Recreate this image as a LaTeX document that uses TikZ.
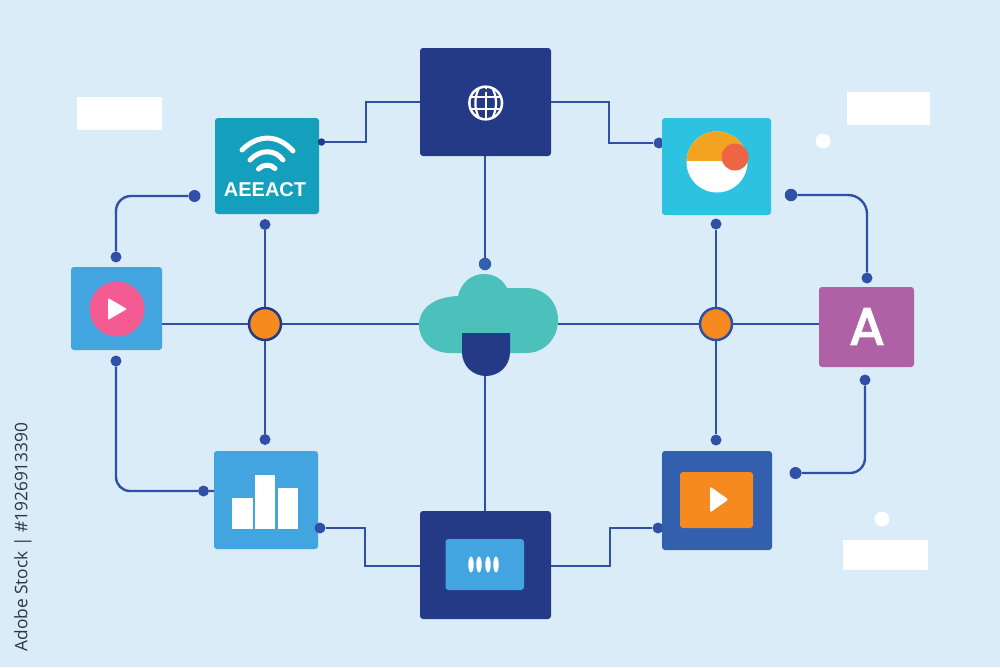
\documentclass[tikz,border=0pt]{standalone}
\usepackage{fontspec}
\setmainfont{Open Sans}
\newfontfamily\labelfont{Liberation Sans}
\newfontfamily\letterfont[RawFeature={embolden=3.2}]{Poppins}
\definecolor{bg}{HTML}{D9ECF8}
\definecolor{wire}{HTML}{3050A8}
\definecolor{navy}{HTML}{253A87}
\definecolor{tealbox}{HTML}{149FBD}
\definecolor{cyanbox}{HTML}{2CC2E0}
\definecolor{skybox}{HTML}{42A5E0}
\definecolor{purplebox}{HTML}{B060A5}
\definecolor{royal}{HTML}{325FAE}
\definecolor{hubor}{HTML}{F78A1E}
\definecolor{amber}{HTML}{F2A31F}
\definecolor{coral}{HTML}{EE6545}
\definecolor{pink}{HTML}{F45B92}
\definecolor{cloudc}{HTML}{4CC1BC}
\definecolor{stamp}{HTML}{2E3640}
\pgfdeclarelayer{under}
\pgfsetlayers{under,main}
\tikzset{
  wirel/.style={draw=wire,line width=2.4pt},
  tile/.style={inner sep=0pt,rounded corners=3pt,draw=none},
  dotn/.style={circle,fill=wire,inner sep=0pt,minimum size=11pt},
  bigdot/.style={dotn,minimum size=12.5pt},
  hub/.style={circle,fill=hubor,draw=wire,line width=2.5pt,inner sep=0pt,minimum size=32pt},
  blank/.style={fill=white,inner sep=0pt,draw=none},
  whitedot/.style={circle,fill=white,inner sep=0pt,minimum size=15pt},
  wifiarc/.style={draw=white,line width=5pt,line cap=round},
  globeline/.style={draw=white,line width=2.2pt},
  bar/.style={fill=white,inner sep=0pt,anchor=south},
}
\begin{document}
\begin{tikzpicture}[x=1pt,y=-1pt]
\useasboundingbox (0,0) rectangle (1000,667);
\begin{pgfonlayer}{under}
\fill[bg] (0,0) rectangle (1000,667);
\end{pgfonlayer}

% dots half hidden by their tiles
\node[dotn] (dPieLeft) at (659,143) {};
\node[dotn] (dVideoLeft) at (658,528) {};

% tiles
\node[tile,fill=navy,minimum width=131pt,minimum height=108pt] (globe) at (485.5,102) {};
\node[tile,fill=tealbox,minimum width=104pt,minimum height=96pt] (wifi) at (267,166) {};
\node[tile,fill=cyanbox,minimum width=109pt,minimum height=97pt] (pie) at (716.5,166.5) {};
\node[tile,fill=purplebox,minimum width=95pt,minimum height=80pt] (letter) at (866.5,327) {};
\node[tile,fill=skybox,minimum width=91pt,minimum height=83pt] (play) at (116.5,308.5) {};
\node[tile,fill=skybox,minimum width=104pt,minimum height=98pt] (chart) at (266,500) {};
\node[tile,fill=navy,minimum width=131pt,minimum height=108pt] (store) at (485.5,565) {};
\node[tile,fill=royal,minimum width=110pt,minimum height=99pt] (video) at (717,500.5) {};

% invisible frames of the cloud and its shield
\node[inner sep=0pt,minimum width=139pt,minimum height=80pt] (cloud) at (488.5,325) {};
\node[inner sep=0pt,minimum width=48pt,minimum height=43pt] (shield) at (485.5,354.5) {};

% end dots
\node[dotn] (dWifiTop) at (265,224.5) {};
\node[dotn] (dChartTop) at (265,439.5) {};
\node[dotn] (dPieBot) at (716,224) {};
\node[dotn] (dVideoTop) at (716,440) {};
\node[bigdot,fill=royal] (dCloud) at (485,264) {};
\node[dotn] (dPlayTop) at (116,257) {};
\node[dotn,minimum size=12pt] (dWifiLeft) at (194.5,196) {};
\node[dotn] (dPlayBot) at (116,361) {};
\node[dotn] (dChartLeft) at (203.5,491) {};
\node[bigdot] (dPieRight) at (791,195) {};
\node[dotn] (dLetterTop) at (867,278) {};
\node[dotn] (dLetterBot) at (865,380) {};
\node[dotn,minimum size=12pt] (dVideoRight) at (795.5,473) {};
\node[dotn,fill=navy,minimum size=7.5pt] (dWifiRight) at (321.5,142) {};
\node[dotn] (dChartRight) at (320,528) {};

% hubs
\node[hub,draw=navy] (hubL) at (265,324) {};
\node[hub] (hubR) at (716,324) {};

% elbow coordinates
\coordinate (e1) at (366,142);
\coordinate (e2) at (366,102);
\coordinate (e3) at (609,102);
\coordinate (e4) at (609,143);
\coordinate (e5) at (365,528);
\coordinate (e6) at (365,566);
\coordinate (e7) at (610,566);
\coordinate (e8) at (610,528);
\coordinate (c1) at (867,195);
\coordinate (c2) at (865,473);
\coordinate (c3) at (116,196);
\coordinate (c4) at (116,491);

% connectors, under everything else
\begin{pgfonlayer}{under}
\draw[wirel] (dWifiRight) -- (e1) -- (e2) -- (e2 -| globe.west);
\draw[wirel] (e3 -| globe.east) -- (e3) -- (e4) -- (dPieLeft);
\draw[wirel] (dChartRight) -- (e5) -- (e6) -- (e6 -| store.west);
\draw[wirel] (e7 -| store.east) -- (e7) -- (e8) -- (dVideoLeft);
\draw[wirel] (dCloud |- globe.south) -- (dCloud);
\draw[wirel] (dCloud |- shield.south) -- (dCloud |- store.north);
\draw[wirel] (dWifiTop) -- (hubL);
\draw[wirel] (hubL) -- (dChartTop);
\draw[wirel] (dPieBot) -- (hubR);
\draw[wirel] (hubR) -- (dVideoTop);
\draw[wirel] (play.east |- hubL) -- (hubL);
\draw[wirel] (hubL) -- (cloud.west |- hubL);
\draw[wirel] (cloud.east |- hubR) -- (hubR);
\draw[wirel] (hubR) -- (letter.west |- hubR);
\draw[wirel,rounded corners=19pt] (dPieRight) -- (c1) -- (dLetterTop);
\draw[wirel,rounded corners=15pt] (dVideoRight) -- (c2) -- (dLetterBot);
\draw[wirel,rounded corners=15pt] (dPlayTop) -- (c3) -- (dWifiLeft);
\draw[wirel,rounded corners=14pt] (dPlayBot) -- (c4) -- (dChartLeft) -- (dChartLeft -| chart.west);
\end{pgfonlayer}

% cloud
\fill[cloudc] (450,353)
  .. controls (432,353) and (419,341) .. (419,325)
  .. controls (419,309) and (433,297) .. (458,296)
  .. controls (461,283) and (471,274) .. (484,274)
  .. controls (495,274) and (503,280) .. (507,288)
  -- (526,288)
  .. controls (545,288) and (558,302) .. (558,320)
  .. controls (558,339) and (544,353) .. (526,353) -- cycle;
\fill[navy] (462,333) -- (510,333) -- (510,352)
  .. controls (510,366) and (499,376) .. (486,376)
  .. controls (473,376) and (462,366) .. (462,352) -- cycle;

% globe icon
\fill[white] (485.7,103) circle[radius=17.6pt];
\fill[navy] (485.7,103) circle[radius=15pt];
\begin{scope}
\clip (485.7,103) circle[radius=16pt];
\draw[globeline] (485.7,87) -- (485.7,119);
\draw[globeline] (469,97) -- (502,97);
\draw[globeline] (469,109) -- (502,109);
\draw[globeline] (479.5,87) .. controls (474,97) and (474,109) .. (479.5,119);
\draw[globeline] (491.9,87) .. controls (497.4,97) and (497.4,109) .. (491.9,119);
\end{scope}
\fill[navy] (485.7,90.5) circle[radius=1.8pt];

% wifi icon
\draw[wifiarc] (242,150) .. controls (258,134) and (278,134) .. (293,151);
\draw[wifiarc] (250,160) .. controls (260,149) and (275,149) .. (283,160);
\draw[wifiarc] (258.5,169) .. controls (263,164) and (271,164) .. (275,168.5);
\node[text=white,inner sep=0pt,font=\labelfont\bfseries\fontsize{20}{20}\selectfont] (wifitext) at (265,190) {AEEACT};

% pie icon
\fill[white] (717,162) circle[radius=30.5pt];
\begin{scope}
\clip (686,131) rectangle (748,160);
\fill[amber] (717,162) circle[radius=30.5pt];
\end{scope}
\fill[coral] (735,157) circle[radius=13.5pt];

% letter
\node[text=white,inner sep=0pt,font=\letterfont\fontsize{52}{52}\selectfont] (lettertext) at (867,326.5) {A};

% play icon
\fill[pink] (117,309) circle[radius=27.5pt];
\fill[white,rounded corners=1pt] (108,298) -- (127,309) -- (108,320) -- cycle;

% chart icon
\node[bar,minimum width=20.5pt,minimum height=30.5pt] (b1) at (242.25,529) {};
\node[bar,minimum width=20pt,minimum height=54pt] (b2) at (265,529) {};
\node[bar,minimum width=19.5pt,minimum height=41pt] (b3) at (287.75,529) {};

% store icon
\node[tile,fill=skybox,minimum width=78.5pt,minimum height=51pt] (pad) at (484.75,564.5) {};
\foreach \x in {471,479,488,496}
  \fill[white] (\x,564.5) ellipse[x radius=2.7pt,y radius=8pt];

% video icon
\node[tile,fill=hubor,minimum width=73pt,minimum height=56pt] (screen) at (716.5,500) {};
\fill[white,rounded corners=1.5pt] (710,486.5) -- (728.5,499.5) -- (710,512.5) -- cycle;

% blanks
\node[blank,minimum width=85pt,minimum height=33pt] (blankA) at (119.5,113.5) {};
\node[blank,minimum width=83pt,minimum height=33pt] (blankB) at (888.5,108.5) {};
\node[blank,minimum width=85pt,minimum height=30pt] (blankC) at (885.5,555) {};
\node[whitedot] (whiteA) at (823,141) {};
\node[whitedot] (whiteB) at (882,519) {};

% side text
\node[rotate=90,text=stamp,inner sep=0pt,font=\fontsize{17.3}{17.3}\selectfont] (stamp) at (23,537) {Adobe Stock | \#1926913390};
\end{tikzpicture}
\end{document}
